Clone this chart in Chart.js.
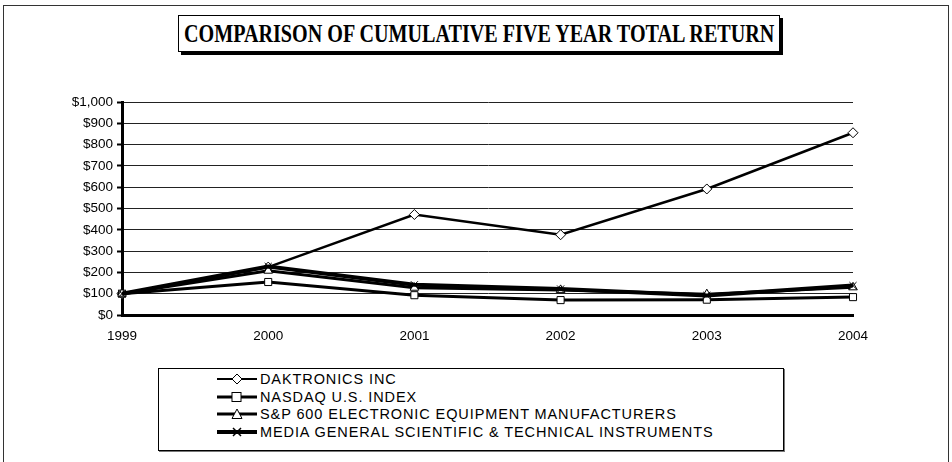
<!DOCTYPE html>
<html>
<head>
<title>Cumulative Total Return</title>
<script src="https://cdn.jsdelivr.net/npm/chart.js@4.4.1/dist/chart.umd.min.js"></script>
<style>
body{margin:0;background:#fff;width:952px;height:462px;overflow:hidden;position:relative;font-family:"Liberation Sans",Arial,sans-serif;}
.frame{position:absolute;left:3px;top:5px;width:944px;height:470px;border:1px solid #333;}
.title-box{position:absolute;left:178px;top:15px;width:600px;height:35px;border:1px solid #000;box-shadow:3px 3px 0 #000;background:#fff;overflow:hidden;}
.title-box span{position:absolute;left:5px;top:0;font-family:"Liberation Serif","Times New Roman",serif;font-weight:bold;font-size:25px;line-height:36px;transform-origin:0 50%;white-space:nowrap;}
.chart-wrap{position:absolute;left:0;top:90px;width:952px;height:260px;}
.legend{position:absolute;left:158px;top:368px;width:624px;height:81px;border:1px solid #000;box-shadow:1px 1px 0 #777;background:#fff;}
.legend .row{position:absolute;left:58px;height:17px;font-size:14.5px;letter-spacing:0.9px;line-height:17px;white-space:nowrap;}
.legend svg{vertical-align:middle;margin-right:3px;position:relative;top:-1px;}
</style>
</head>
<body>
<div class="frame"></div>
<div class="title-box"><span id="ttl">COMPARISON OF CUMULATIVE FIVE YEAR TOTAL RETURN</span></div>
<div class="chart-wrap"><canvas id="c" width="952" height="260"></canvas></div>
<div class="legend" id="legend"></div>

<script type="text/javascript">
// data
var years = ["1999", "2000", "2001", "2002", "2003", "2004"];
var daktronics = [100, 225, 472, 377, 592, 856];
var nasdaq = [100, 155, 93, 70, 72, 84];
var sp600 = [100, 208, 128, 118, 98, 130];
var mediaGeneral = [100, 228, 142, 122, 92, 138];
var seriesNames = ["DAKTRONICS INC", "NASDAQ U.S. INDEX", "S&P 600 ELECTRONIC EQUIPMENT MANUFACTURERS", "MEDIA GENERAL SCIENTIFIC & TECHNICAL INSTRUMENTS"];

// squeeze the title into its box
var t = document.getElementById("ttl");
var sx = 590 / t.offsetWidth;
t.style.transform = "scaleX(" + sx + ")";

function ds(label, data, style, width, radius) {
  return {
    label: label,
    data: data,
    borderColor: "#000",
    backgroundColor: "#fff",
    borderWidth: width,
    pointStyle: style,
    pointRadius: radius,
    pointBorderWidth: 1,
    pointBorderColor: "#000",
    pointBackgroundColor: "#fff",
    lineTension: 0,
    fill: false
  };
}

var tickFont = {family: "Liberation Sans", size: 13.5};

var chart = new Chart(document.getElementById("c"), {
  type: "line",
  data: {
    labels: years,
    datasets: [
      ds(seriesNames[3], mediaGeneral, "crossRot", 4, 5),
      ds(seriesNames[2], sp600, "triangle", 3, 5),
      ds(seriesNames[1], nasdaq, "rect", 3, 5),
      ds(seriesNames[0], daktronics, "rectRot", 2.5, 5)
    ]
  },
  options: {
    responsive: false,
    animation: false,
    layout: {padding: {top: 10, right: 99, left: 0, bottom: 0}},
    plugins: {legend: {display: false}, tooltip: {enabled: false}},
    scales: {
      x: {
        offset: false,
        grid: {display: false, drawOnChartArea: false, drawTicks: true, tickLength: 5, tickColor: "#000", tickWidth: 2},
        border: {display: true, color: "#000", width: 3},
        ticks: {color: "#000", font: tickFont, padding: 8, maxRotation: 0},
        afterFit: function (s) { s.height = 35; }
      },
      y: {
        min: 0,
        max: 1000,
        grid: {color: "#222", lineWidth: 1, tickLength: 5, tickColor: "#000", tickWidth: 2},
        border: {display: true, color: "#000", width: 3},
        ticks: {
          stepSize: 100,
          color: "#000",
          font: tickFont,
          padding: 4,
          callback: function (v) { return "$" + v.toLocaleString("en-US"); }
        },
        afterFit: function (s) { s.width = 122; }
      }
    }
  }
});

// legend entries with a line and marker
var markers = [
  '<polygon points="20,3 25,8 20,13 15,8" fill="#fff" stroke="#000"/>',
  '<rect x="15" y="3.5" width="9" height="9" fill="#fff" stroke="#000"/>',
  '<polygon points="20,3 25,12.5 15,12.5" fill="#fff" stroke="#000"/>',
  '<path d="M16,4 L24,12 M24,4 L16,12" stroke="#000" stroke-width="1.5"/>'
];
var widths = [2, 3, 3, 4];
var legend = document.getElementById("legend");
for (var i = 0; i < seriesNames.length; i++) {
  var row = document.createElement("div");
  row.className = "row";
  row.style.top = (2 + i * 17.5) + "px";
  row.innerHTML = '<svg width="40" height="16"><line x1="0" y1="8" x2="40" y2="8" stroke="#000" stroke-width="' + widths[i] + '"/>' + markers[i] + '</svg>';
  row.appendChild(document.createTextNode(seriesNames[i]));
  legend.appendChild(row);
}
</script>
</body>
</html>
